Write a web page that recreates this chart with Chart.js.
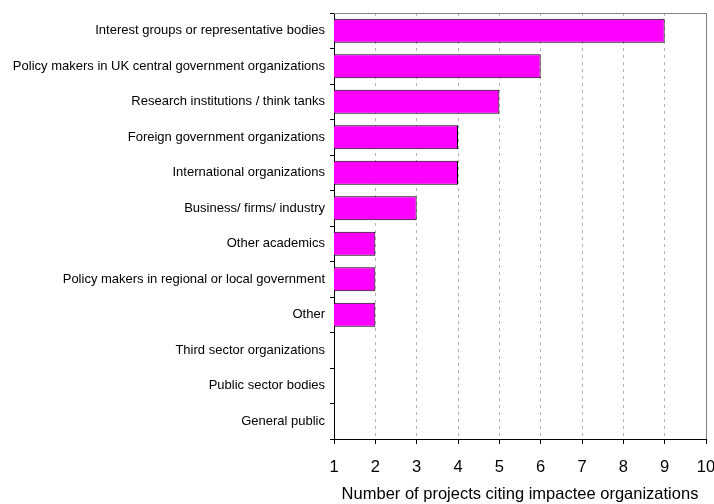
<!DOCTYPE html>
<html>
  <head>
    <title>Impactee organizations</title>
    <style>
      html, body { margin: 0; padding: 0; background: #fff; }
      #wrap { width: 714px; height: 504px; }
    </style>
  </head>
  <body>
    <script src="https://cdnjs.cloudflare.com/ajax/libs/Chart.js/4.4.1/chart.umd.min.js"></script>

    <div id="wrap"><canvas id="impactChart"></canvas></div>

    <script>
      // Data
      const categories = [
        "Interest groups or representative bodies",
        "Policy makers in UK central government organizations",
        "Research institutions / think tanks",
        "Foreign government organizations",
        "International organizations",
        "Business/ firms/ industry",
        "Other academics",
        "Policy makers in regional or local government",
        "Other",
        "Third sector organizations",
        "Public sector bodies",
        "General public"
      ];
      const projectCounts = [9, 6, 5, 4, 4, 3, 2, 2, 2, 0, 0, 0];
      const xTicks = [1, 2, 3, 4, 5, 6, 7, 8, 9, 10];
      const xTitle = "Number of projects citing impactee organizations";

      // Gray frame on top and right of the plot area
      const frame = {
        id: "frame",
        afterDraw(chart) {
          const { ctx, chartArea: a } = chart;
          ctx.save();
          ctx.strokeStyle = "#808080";
          ctx.lineWidth = 1;
          ctx.beginPath();
          ctx.moveTo(a.left, a.top + 0.5);
          ctx.lineTo(a.right + 0.5, a.top + 0.5);
          ctx.lineTo(a.right + 0.5, a.bottom);
          ctx.stroke();
          ctx.restore();
        }
      };

      const ctx = document.getElementById("impactChart").getContext("2d");

      const chart = new Chart(ctx, {
        type: "bar",
        data: {
          labels: categories,
          datasets: [{
            data: projectCounts.map(v => (v >= 1 ? v : null)),
            backgroundColor: "#ff00ff",
            borderColor: "#000",
            borderWidth: 1,
            borderSkipped: false,
            barPercentage: 0.68,
            categoryPercentage: 1
          }]
        },
        options: {
          indexAxis: "y",
          responsive: true,
          maintainAspectRatio: false,
          animation: false,
          layout: { padding: { top: 13, right: 8, left: 0, bottom: 0 } },
          plugins: {
            legend: { display: false },
            tooltip: { enabled: false }
          },
          scales: {
            x: {
              type: "linear",
              min: 1,
              max: 10,
              afterBuildTicks: axis => { axis.ticks = xTicks.map(v => ({ value: v })); },
              afterFit: axis => {
                axis.height = 65;
                axis.paddingLeft = 0;
                axis.paddingRight = 0;
              },
              grid: { color: "#b4b4b4", tickColor: "#000", tickLength: 5 },
              border: { color: "#000", dash: [3, 4] },
              ticks: {
                color: "#000",
                padding: 14,
                font: { family: "Liberation Sans, Arial", size: 16.5 }
              },
              title: {
                display: true,
                text: xTitle,
                color: "#000",
                padding: { top: 2, bottom: 0 },
                font: { family: "Liberation Sans, Arial", size: 16.5 }
              }
            },
            y: {
              afterFit: axis => { axis.width = 334; },
              grid: { offset: true, drawOnChartArea: false, color: "#000", tickLength: 4 },
              border: { color: "#000" },
              ticks: {
                color: "#000",
                padding: 5,
                autoSkip: false,
                font: { family: "Liberation Sans, Arial", size: 13 }
              }
            }
          }
        },
        plugins: [frame]
      });
    </script>
  </body>
</html>
